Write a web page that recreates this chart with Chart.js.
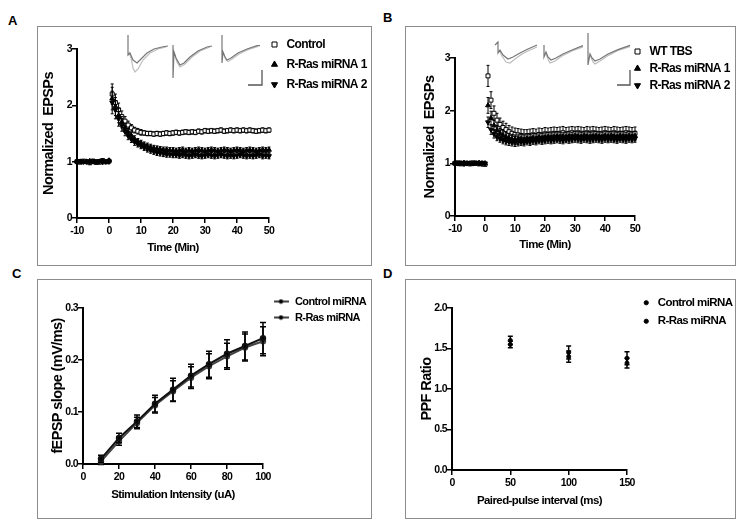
<!DOCTYPE html>
<html>
<head>
<meta charset="utf-8">
<script src="https://cdn.jsdelivr.net/npm/chart.js@4.4.0/dist/chart.umd.min.js"></script>
<style>
body{margin:0;background:#fff;width:741px;height:527px;position:relative;overflow:hidden}
.box{position:absolute;border:1px solid #8c8c8c;box-sizing:border-box}
.box canvas{position:absolute;left:0;top:0}
.lbl{position:absolute;font:bold 13px "Liberation Sans",Arial,sans-serif;line-height:13px;color:#000}
.inset{position:absolute;pointer-events:none}
</style>
</head>
<body>
<div class="lbl" style="left:8px;top:14px">A</div>
<div class="lbl" style="left:383px;top:11px">B</div>
<div class="lbl" style="left:12px;top:267px">C</div>
<div class="lbl" style="left:383px;top:267px">D</div>

<div class="box" style="left:37px;top:26px;width:335px;height:240px"><canvas id="chartA" width="333" height="238"></canvas></div>
<div class="box" style="left:405px;top:26px;width:331px;height:240px"><canvas id="chartB" width="329" height="238"></canvas></div>
<div class="box" style="left:37px;top:279px;width:335px;height:240px"><canvas id="chartC" width="333" height="238"></canvas></div>
<div class="box" style="left:405px;top:279px;width:331px;height:240px"><canvas id="chartD" width="329" height="238"></canvas></div>

<canvas class="inset" id="insetA" width="148" height="60" style="left:120px;top:30px"></canvas>
<canvas class="inset" id="insetB" width="148" height="60" style="left:490px;top:30px"></canvas>

<script>
// time points (min), shared by A and B
const timeMin = [-10,-9,-8,-7,-6,-5,-4,-3,-2,-1,0,
  1,2,3,4,5,6,7,8,9,10,11,12,13,14,15,16,17,18,19,20,21,22,23,24,25,
  26,27,28,29,30,31,32,33,34,35,36,37,38,39,40,41,42,43,44,45,46,47,48,49,50];

// panel A
const ctrlA = [1.00,0.99,1.01,1.00,0.98,1.01,1.00,0.99,1.02,1.00,1.01,
  2.20,2.05,1.92,1.80,1.72,1.65,1.60,1.56,1.54,1.52,1.51,1.50,1.50,1.49,1.50,1.49,1.50,1.51,1.50,1.51,
  1.52,1.51,1.52,1.53,1.52,1.53,1.52,1.54,1.53,1.55,1.54,1.55,1.54,1.55,1.56,1.54,1.55,1.56,1.55,1.56,
  1.55,1.56,1.55,1.56,1.55,1.54,1.55,1.56,1.55,1.56];
const ctrlAErr = [0.02,0.02,0.02,0.02,0.02,0.02,0.02,0.02,0.02,0.02,0.02,
  0.18,0.15,0.12,0.10,0.08,0.07,0.06,0.05,0.05,0.05,0.04,0.04,0.04,0.04,0.04,0.04,0.04,0.04,0.04,0.04,
  0.04,0.04,0.04,0.04,0.04,0.04,0.04,0.04,0.04,0.04,0.04,0.04,0.04,0.04,0.04,0.04,0.04,0.04,0.04,0.04,
  0.04,0.04,0.04,0.04,0.04,0.04,0.04,0.04,0.04,0.04];
const mi1A = [1.01,1.00,0.99,1.00,1.01,1.00,0.98,1.00,1.01,0.99,1.02,
  2.12,1.98,1.82,1.70,1.60,1.52,1.46,1.40,1.36,1.33,1.30,1.28,1.26,1.24,1.23,1.22,1.21,1.21,1.20,1.20,
  1.19,1.20,1.21,1.19,1.20,1.19,1.20,1.21,1.20,1.19,1.20,1.21,1.20,1.19,1.20,1.21,1.20,1.19,1.20,1.21,
  1.20,1.19,1.20,1.21,1.20,1.19,1.20,1.21,1.20,1.21];
const mi1AErr = [0.02,0.02,0.02,0.02,0.02,0.02,0.02,0.02,0.02,0.02,0.02,
  0.20,0.16,0.13,0.10,0.08,0.07,0.06,0.06,0.05,0.05,0.05,0.05,0.05,0.05,0.05,0.05,0.05,0.05,0.05,0.05,
  0.05,0.05,0.05,0.05,0.05,0.05,0.05,0.05,0.05,0.05,0.05,0.05,0.05,0.05,0.05,0.05,0.05,0.05,0.05,0.05,
  0.05,0.05,0.05,0.05,0.05,0.05,0.05,0.05,0.05,0.05];
const mi2A = [0.99,1.01,1.00,1.00,0.99,1.01,1.00,1.01,0.99,1.00,1.00,
  2.05,1.92,1.76,1.64,1.54,1.46,1.40,1.35,1.31,1.28,1.25,1.22,1.20,1.18,1.16,1.15,1.14,1.13,1.13,1.12,
  1.12,1.11,1.12,1.11,1.10,1.11,1.12,1.11,1.10,1.11,1.12,1.11,1.10,1.11,1.12,1.11,1.10,1.11,1.10,1.11,
  1.12,1.11,1.10,1.11,1.10,1.11,1.12,1.10,1.11,1.10];
const mi2AErr = mi1AErr;

// panel B
const wtB = [1.00,1.01,0.99,1.00,1.00,0.99,1.01,1.00,0.99,1.00,0.98,
  2.66,2.20,1.95,1.82,1.74,1.68,1.64,1.60,1.57,1.55,1.54,1.53,1.52,1.52,1.53,1.54,1.53,1.55,1.54,1.56,
  1.55,1.56,1.57,1.56,1.57,1.58,1.56,1.57,1.58,1.57,1.58,1.57,1.56,1.58,1.57,1.58,1.57,1.56,1.57,1.58,
  1.57,1.56,1.58,1.57,1.56,1.57,1.58,1.57,1.56,1.57];
const wtBErr = [0.02,0.02,0.02,0.02,0.02,0.02,0.02,0.02,0.02,0.02,0.02,
  0.20,0.16,0.14,0.13,0.12,0.12,0.12,0.12,0.12,0.12,0.12,0.12,0.12,0.12,0.12,0.12,0.12,0.12,0.12,0.12,
  0.12,0.12,0.12,0.12,0.12,0.12,0.12,0.12,0.12,0.12,0.12,0.12,0.12,0.12,0.12,0.12,0.12,0.12,0.12,0.12,
  0.12,0.12,0.12,0.12,0.12,0.12,0.12,0.12,0.12,0.12];
const mi1B = [1.00,0.99,1.00,1.01,1.00,1.00,0.99,1.00,1.01,1.00,1.00,
  2.10,1.86,1.72,1.63,1.57,1.53,1.50,1.48,1.46,1.45,1.45,1.46,1.45,1.47,1.46,1.48,1.47,1.49,1.48,1.49,
  1.50,1.49,1.50,1.51,1.50,1.49,1.50,1.51,1.50,1.52,1.51,1.50,1.52,1.51,1.50,1.51,1.52,1.51,1.50,1.52,
  1.51,1.52,1.51,1.50,1.52,1.51,1.50,1.52,1.51,1.52];
const mi1BErr = [0.02,0.02,0.02,0.02,0.02,0.02,0.02,0.02,0.02,0.02,0.02,
  0.15,0.13,0.10,0.09,0.09,0.09,0.09,0.09,0.09,0.09,0.09,0.09,0.09,0.09,0.09,0.09,0.09,0.09,0.09,0.09,
  0.09,0.09,0.09,0.09,0.09,0.09,0.09,0.09,0.09,0.09,0.09,0.09,0.09,0.09,0.09,0.09,0.09,0.09,0.09,0.09,
  0.09,0.09,0.09,0.09,0.09,0.09,0.09,0.09,0.09,0.09];
const mi2B = [1.00,1.00,1.01,0.99,1.00,1.00,1.00,1.01,1.00,0.99,1.00,
  1.78,1.64,1.56,1.50,1.47,1.44,1.42,1.41,1.40,1.39,1.40,1.41,1.40,1.42,1.41,1.43,1.42,1.44,1.43,1.44,
  1.45,1.44,1.45,1.46,1.45,1.44,1.46,1.45,1.46,1.47,1.46,1.45,1.47,1.46,1.45,1.46,1.47,1.46,1.45,1.47,
  1.46,1.47,1.46,1.45,1.47,1.46,1.45,1.47,1.46,1.47];
const mi2BErr = [0.02,0.02,0.02,0.02,0.02,0.02,0.02,0.02,0.02,0.02,0.02,
  0.10,0.09,0.08,0.07,0.07,0.07,0.07,0.07,0.07,0.07,0.07,0.07,0.07,0.07,0.07,0.07,0.07,0.07,0.07,0.07,
  0.07,0.07,0.07,0.07,0.07,0.07,0.07,0.07,0.07,0.07,0.07,0.07,0.07,0.07,0.07,0.07,0.07,0.07,0.07,0.07,
  0.07,0.07,0.07,0.07,0.07,0.07,0.07,0.07,0.07,0.07];

// panel C
const intensity = [10,20,30,40,50,60,70,80,90,100];
const ctrlC = [0.010,0.050,0.082,0.116,0.143,0.170,0.192,0.212,0.227,0.242];
const ctrlCErr = [0.007,0.009,0.012,0.016,0.022,0.022,0.025,0.027,0.027,0.030];
const rasC = [0.005,0.044,0.079,0.113,0.140,0.166,0.188,0.207,0.224,0.236];
const rasCErr = [0.006,0.008,0.011,0.015,0.020,0.021,0.024,0.025,0.026,0.028];

// panel D
const interval = [50,100,150];
const ctrlD = [1.60,1.45,1.38];
const ctrlDErr = [0.05,0.08,0.08];
const rasD = [1.55,1.40,1.32];
const rasDErr = [0.04,0.07,0.06];

// example sweeps for the insets (x: ms offset, y: mV), null = break
const insetADark = [[8,0.55],[8,-0.45],[10,-0.35],[13,-0.7],[17,-0.85],[21,-0.65],[27,-0.35],[34,-0.15],[42,-0.05],[48,0],null,
  [53,0.05],[53,-1.6],[54,-0.3],[56,-0.6],[60,-0.95],[64,-0.85],[70,-0.55],[78,-0.25],[87,-0.05],[92,0],null,
  [102,0.55],[102,-0.85],[103,-0.3],[105,-0.55],[107,-0.7],[111,-0.6],[118,-0.35],[127,-0.15],[137,0.02],[140,0.02]];
const insetALight = [[9,-0.3],[11,-0.6],[13,-1.1],[15,-1.3],[18,-1.15],[23,-0.7],[30,-0.35],[38,-0.15],[46,-0.05],null,
  [54,-0.3],[57,-0.8],[60,-1.05],[65,-0.9],[72,-0.55],[80,-0.25],[90,-0.05],null,
  [103,-0.3],[106,-0.7],[108,-0.78],[112,-0.65],[119,-0.4],[128,-0.18],[138,-0.02]];
const scaleBarA = [[128,-1.95],[142,-1.95],[142,-1.2]];
const insetBDark = [[5,0.05],[8,0.2],[8,-0.35],[10,-0.2],[13,-0.45],[18,-0.65],[23,-0.55],[30,-0.35],[38,-0.15],[47,0.05],null,
  [54,0.05],[54,-0.55],[56,-0.3],[58,-0.55],[61,-0.7],[66,-0.6],[73,-0.4],[82,-0.2],[93,0.02],null,
  [98,0.65],[98,-0.95],[100,-0.4],[102,-0.6],[105,-0.75],[110,-0.65],[118,-0.4],[128,-0.18],[140,0.03]];
const insetBLight = [[9,-0.2],[12,-0.5],[16,-0.8],[20,-0.85],[25,-0.65],[32,-0.4],[40,-0.2],[47,-0.05],null,
  [55,-0.3],[58,-0.65],[60,-0.85],[65,-0.75],[72,-0.5],[82,-0.25],[93,-0.05],null,
  [100,-0.45],[103,-0.8],[105,-0.9],[110,-0.75],[118,-0.48],[128,-0.22],[140,-0.03]];
const scaleBarB = [[127,-1.95],[140,-1.95],[140,-1.2]];

const FONT = '"Liberation Sans", Arial, sans-serif';
Chart.defaults.color = '#000';
Chart.defaults.font.family = FONT;

const pts = (xs, ys) => xs.map((x, i) => ({x: x, y: ys[i]}));
const pairs = arr => arr.map(p => p ? {x: p[0], y: p[1]} : {x: NaN, y: NaN});

// the figure's lettering is condensed; tighten canvas text
Chart.register({
  id: 'tightText',
  beforeUpdate(chart) { chart.ctx.letterSpacing = '-0.6px'; },
  beforeDraw(chart) { chart.ctx.letterSpacing = '-0.6px'; }
});

// vertical SEM bars under each dataset
const errorBars = {
  id: 'errorBars',
  beforeDatasetDraw(chart, args, opts) {
    const ds = chart.data.datasets[args.index];
    if (!ds.errors) return;
    const ys = chart.scales.y, ctx = chart.ctx, cap = opts.cap || 2;
    ctx.save();
    ctx.strokeStyle = '#000';
    ctx.lineWidth = opts.width || 1;
    args.meta.data.forEach((pt, i) => {
      const e = ds.errors[i];
      if (!e) return;
      const v = ds.data[i].y;
      const t = ys.getPixelForValue(v + e), b = ys.getPixelForValue(v - e);
      ctx.beginPath();
      ctx.moveTo(pt.x, t); ctx.lineTo(pt.x, b);
      ctx.moveTo(pt.x - cap, t); ctx.lineTo(pt.x + cap, t);
      ctx.moveTo(pt.x - cap, b); ctx.lineTo(pt.x + cap, b);
      ctx.stroke();
    });
    ctx.restore();
  }
};

// put the legend where the figure has it
const legendSpot = {
  id: 'legendSpot',
  afterLayout(chart, args, opts) {
    const lg = chart.legend;
    if (!lg || opts.x == null) return;
    lg.left = opts.x; lg.right = chart.width;
    lg.top = opts.y; lg.bottom = chart.height;
  }
};

function xAxis(o) {
  return {
    type: 'linear', min: o.min, max: o.max,
    border: {display: true, color: '#000', width: 2},
    grid: {display: true, drawOnChartArea: false, drawTicks: true, tickLength: 5, color: '#000', lineWidth: 1.5},
    ticks: {stepSize: o.step, padding: 2, maxRotation: 0, autoSkip: false, font: {size: 10.5, weight: 'bold'}, callback: o.fmt || (v => v)},
    title: {display: true, text: o.title, font: {size: 11.5, weight: 'bold'}, padding: {top: 0, bottom: o.titlePad}},
    afterFit: s => { s.height = o.height; }
  };
}
function yAxis(o) {
  return {
    type: 'linear', min: o.min, max: o.max,
    border: {display: true, color: '#000', width: 2},
    grid: {display: true, drawOnChartArea: false, drawTicks: true, tickLength: 5, color: '#000', lineWidth: 1.5},
    ticks: {stepSize: o.step, padding: 0, autoSkip: false, font: {size: 10.5, weight: 'bold'}, callback: o.fmt || (v => v)},
    title: {display: true, text: o.title, font: {size: 14.5, weight: 'bold'}, padding: {top: o.titlePad, bottom: 0}},
    afterFit: s => { s.width = o.width; }
  };
}
function legendOpts(pad, boxH, size, extra) {
  return {
    position: 'right', align: 'start', maxWidth: 40,
    labels: Object.assign({usePointStyle: true, boxWidth: 13, boxHeight: boxH, padding: pad,
      sort: (a, b) => a.datasetIndex - b.datasetIndex,
      font: {size: size, weight: 'bold'}}, extra || {})
  };
}
function baseOptions(o) {
  return {
    responsive: false, animation: false, devicePixelRatio: 1, events: [],
    layout: {padding: {top: o.top, right: o.right, bottom: 0, left: 0}},
    plugins: {
      legend: o.legend, tooltip: {enabled: false},
      legendSpot: o.spot, errorBars: o.bars
    },
    scales: {x: o.x, y: o.y}
  };
}
// filled triangles are painted over the open squares
function ltpSet(label, ys, errs, style, rot, fill, order) {
  return {label: label, data: pts(timeMin, ys), errors: errs, showLine: false, clip: false, order: order,
    pointStyle: style, pointRotation: rot, pointRadius: 2.8, borderWidth: 1,
    backgroundColor: fill, borderColor: '#000'};
}

// A
new Chart(document.getElementById('chartA'), {
  type: 'scatter',
  data: {datasets: [
    ltpSet('Control', ctrlA, ctrlAErr, 'rect', 0, '#fff', 3),
    ltpSet('R-Ras miRNA 1', mi1A, mi1AErr, 'triangle', 0, '#000', 2),
    ltpSet('R-Ras miRNA 2', mi2A, mi2AErr, 'triangle', 180, '#000', 1)
  ]},
  options: baseOptions({
    top: 22, right: 62,
    legend: legendOpts(8, 5, 12), spot: {x: 222.5, y: 3.5}, bars: {width: 1, cap: 1.5},
    x: xAxis({min: -10, max: 50, step: 10, title: 'Time (Min)', titlePad: 10, height: 47}),
    y: yAxis({min: 0, max: 3, step: 1, title: 'Normalized  EPSPs', titlePad: 2, width: 39})
  }),
  plugins: [errorBars, legendSpot]
});

// B
new Chart(document.getElementById('chartB'), {
  type: 'scatter',
  data: {datasets: [
    ltpSet('WT TBS', wtB, wtBErr, 'rect', 0, '#fff', 3),
    ltpSet('R-Ras miRNA 1', mi1B, mi1BErr, 'triangle', 0, '#000', 2),
    ltpSet('R-Ras miRNA 2', mi2B, mi2BErr, 'triangle', 180, '#000', 1)
  ]},
  options: baseOptions({
    top: 31, right: 60,
    legend: legendOpts(5, 5, 12), spot: {x: 220.5, y: 13.5}, bars: {width: 1, cap: 1.5},
    x: xAxis({min: -10, max: 50, step: 10, title: 'Time (Min)', titlePad: 13, height: 49}),
    y: yAxis({min: 0, max: 3, step: 1, title: 'Normalized  EPSPs', titlePad: 15, width: 49})
  }),
  plugins: [errorBars, legendSpot]
});

// legend glyph for C: line through a dot
const lineDot = document.createElement('canvas');
lineDot.width = 15; lineDot.height = 6;
(function () {
  const g = lineDot.getContext('2d');
  g.strokeStyle = '#000'; g.lineWidth = 1.5;
  g.beginPath(); g.moveTo(0, 3); g.lineTo(15, 3); g.stroke();
  g.fillStyle = '#000';
  g.beginPath(); g.arc(7.5, 3, 2.2, 0, Math.PI * 2); g.fill();
})();

// C
new Chart(document.getElementById('chartC'), {
  type: 'scatter',
  data: {datasets: [
    {label: 'Control miRNA', data: pts(intensity, ctrlC), errors: ctrlCErr, showLine: true, clip: false,
      borderColor: '#111', backgroundColor: '#000', borderWidth: 2, pointRadius: 2.2},
    {label: 'R-Ras miRNA', data: pts(intensity, rasC), errors: rasCErr, showLine: true, clip: false,
      borderColor: '#444', backgroundColor: '#000', borderWidth: 2, pointRadius: 2.2}
  ]},
  options: baseOptions({
    top: 28, right: 68,
    legend: legendOpts(5, 5, 11, {pointStyle: lineDot, pointStyleWidth: 17}), spot: {x: 229.5, y: 11},
    bars: {width: 1.5, cap: 3},
    x: xAxis({min: 0, max: 100, step: 20, title: 'Stimulation Intensity (uA)', titlePad: 16, height: 54}),
    y: yAxis({min: 0, max: 0.3, step: 0.1, title: 'fEPSP slope (mV/ms)', titlePad: 11, width: 45, fmt: v => v.toFixed(1)})
  }),
  plugins: [errorBars, legendSpot]
});

// D
new Chart(document.getElementById('chartD'), {
  type: 'scatter',
  data: {datasets: [
    {label: 'Control miRNA', data: pts(interval, ctrlD), errors: ctrlDErr, clip: false,
      borderColor: '#000', backgroundColor: '#000', borderWidth: 1, pointRadius: 2},
    {label: 'R-Ras miRNA', data: pts(interval, rasD), errors: rasDErr, clip: false,
      borderColor: '#000', backgroundColor: '#000', borderWidth: 1, pointRadius: 2}
  ]},
  options: baseOptions({
    top: 28, right: 68,
    legend: legendOpts(7, 3, 11.5), spot: {x: 227.5, y: 10},
    bars: {width: 1.5, cap: 2.5},
    x: xAxis({min: 0, max: 150, step: 50, title: 'Paired-pulse interval (ms)', titlePad: 10, height: 48}),
    y: yAxis({min: 0, max: 2, step: 0.5, title: 'PPF Ratio', titlePad: 12, width: 46, fmt: v => v.toFixed(1)})
  }),
  plugins: [errorBars, legendSpot]
});

// inset sweeps
function inset(id, dark, light, bar) {
  const line = (d, c, w) => ({data: pairs(d), showLine: true, pointRadius: 0, borderColor: c, borderWidth: w, clip: false});
  new Chart(document.getElementById(id), {
    type: 'scatter',
    data: {datasets: [line(bar, '#555', 1.3), line(dark, '#777', 1.2), line(light, '#bdbdbd', 1.2)]},
    options: {
      responsive: false, animation: false, devicePixelRatio: 1, events: [],
      layout: {padding: 0},
      plugins: {legend: {display: false}, tooltip: {enabled: false}},
      scales: {x: {display: false, min: 0, max: 148}, y: {display: false, min: -2.2, max: 0.8}}
    }
  });
}
inset('insetA', insetADark, insetALight, scaleBarA);
inset('insetB', insetBDark, insetBLight, scaleBarB);
</script>
</body>
</html>
